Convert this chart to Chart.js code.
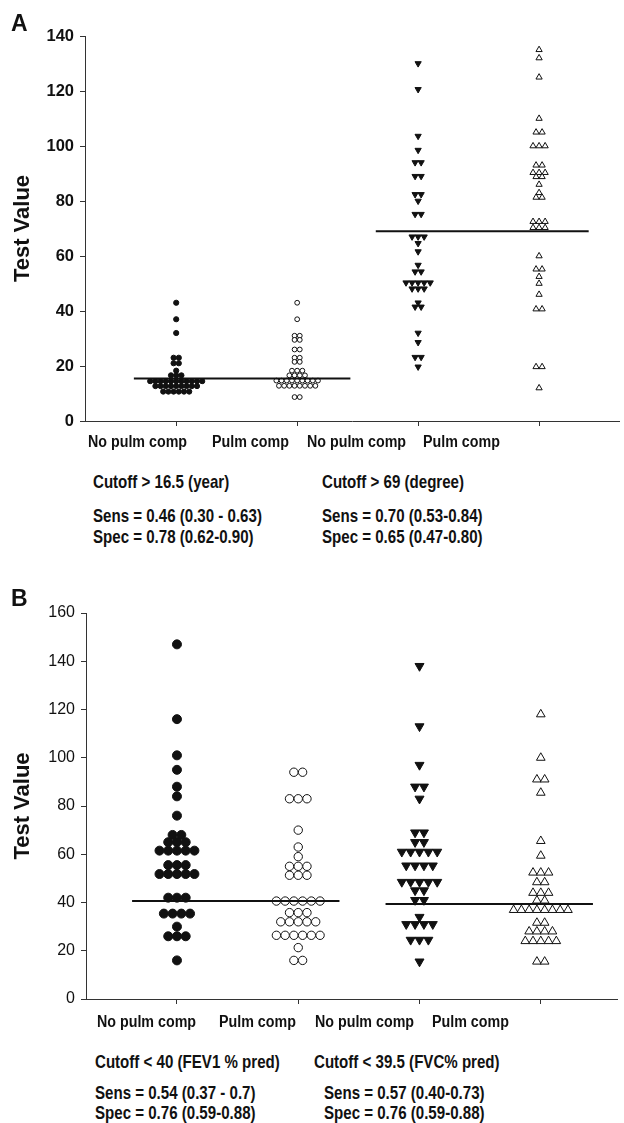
<!DOCTYPE html>
<html>
<head>
<meta charset="utf-8">
<script src="https://cdn.jsdelivr.net/npm/chart.js@4/dist/chart.umd.min.js"></script>
<style>
  html, body { margin: 0; padding: 0; background: #fff; }
  #page { position: relative; width: 624px; height: 1123px;
          font-family: "Liberation Sans", Arial, Helvetica, sans-serif; color: #111; }
  canvas { position: absolute; left: 0; }
  .txt { position: absolute; white-space: nowrap; font-weight: bold; line-height: 1;
         transform-origin: 0 50%; }
  .panel { font-size: 23px; }
  .cat { font-size: 17.2px; transform: scaleX(0.83); }
  .note { font-size: 18.4px; transform: scaleX(0.82); }
</style>
</head>
<body>
<div id="page">
  <canvas id="chart-a" width="624" height="450" style="top:0"></canvas>
  <canvas id="chart-b" width="624" height="450" style="top:580px"></canvas>
</div>
<script>
// group names along the x axis
const categories = ['No pulm comp', 'Pulm comp', 'No pulm comp', 'Pulm comp'];

// Panel A: age (years) and curve angle (degrees)
const ageNoPulm = [43, 37, 32, 23, 23, 21, 21, 18.3, 16.6, 16.6, 16.6,
  14.5, 14.5, 14.5, 14.5, 14.5, 14.5, 14.5, 14.5, 14.5, 14.5, 14.5,
  12.7, 12.7, 12.7, 12.7, 12.7, 12.7, 12.7, 12.7, 12.7,
  10.7, 10.7, 10.7, 10.7, 10.7, 10.7];
const agePulm = [43, 37, 31, 31, 29.5, 29.5, 26, 26, 23, 23, 21.5, 21.5,
  18.3, 18.3, 18.3, 16.6, 16.6, 16.6, 16.6,
  14.7, 14.7, 14.7, 14.7, 14.7, 14.7, 14.7, 14.7, 14.7,
  12.8, 12.8, 12.8, 12.8, 12.8, 12.8, 12.8, 12.8, 8.7, 8.7];
const angleNoPulm = [130, 120.6, 103.6, 98.5, 94, 94, 89, 89, 82.4, 82.4, 80, 75.2, 75.2,
  67, 67, 67, 64.6, 61.6, 56.7, 54.3, 54.3, 50.3, 50.3, 50.3, 50.3, 50.3,
  48.1, 48.1, 48.1, 43, 41.5, 41.5, 32, 28.6, 23.2, 23.2, 19.7];
const anglePulm = [135, 132, 125, 110, 105, 105, 100, 100, 100, 93, 93,
  90.3, 90.3, 90.3, 88.8, 88.8, 86, 83, 81.3, 81.3,
  72.5, 72.5, 72.5, 70.3, 70.3, 70.3, 60, 55.2, 55.2, 52.5, 50, 46,
  40.7, 40.7, 19.7, 19.7, 12];
const cutoffsA = [15.5, 69];

// Panel B: FEV1 % pred and FVC % pred
const fev1NoPulm = [147, 116, 101, 95, 88, 84, 76, 68, 68, 65, 65, 65,
  61.5, 61.5, 61.5, 61.5, 61.5, 55.5, 55.5, 55.5, 51.8, 51.8, 51.8, 51.8, 51.8,
  42, 42, 42, 35.4, 35.4, 35.4, 35.4, 30, 26, 26, 26, 16];
const fev1Pulm = [94, 94, 83, 83, 83, 70, 63, 59, 55, 55, 55, 51.3, 51.3, 51.3,
  40.6, 40.6, 40.6, 40.6, 40.6, 40.6, 35.8, 35.8, 35.8, 32, 32, 32, 32, 32,
  26.4, 26.4, 26.4, 26.4, 26.4, 26.4, 21.3, 16, 16];
const fvcNoPulm = [138, 113, 97, 88, 88, 83, 69, 69, 65, 65,
  61, 61, 61, 61, 61, 55.3, 55.3, 55.3, 55.3, 48.5, 48.5, 48.5, 48.5, 48.5,
  45, 45, 41, 41, 34, 31, 31, 31, 31, 24.5, 24.5, 24.5, 15.5];
const fvcPulm = [118, 100, 91, 91, 85.5, 65.5, 59.4, 52.4, 52.4, 52.4, 48.4, 48.4,
  44, 44, 44, 40.8, 40.8, 36.9, 36.9, 36.9, 36.9, 36.9, 36.9, 36.9, 36.9,
  31.6, 31.6, 28, 28, 28, 28, 24, 24, 24, 24, 24, 15.5, 15.5];
const cutoffsB = [40.6, 39.4];

// tick values
const yTicksA = [0, 20, 40, 60, 80, 100, 120, 140];
const yTicksB = [0, 20, 40, 60, 80, 100, 120, 140, 160];

// text under each panel
const notesA = [
  ['Cutoff > 16.5 (year)', 'Sens = 0.46 (0.30 - 0.63)', 'Spec = 0.78 (0.62-0.90)'],
  ['Cutoff > 69 (degree)', 'Sens = 0.70 (0.53-0.84)', 'Spec = 0.65 (0.47-0.80)'],
];
const notesB = [
  ['Cutoff < 40 (FEV1 % pred)', 'Sens = 0.54 (0.37 - 0.7)', 'Spec = 0.76 (0.59-0.88)'],
  ['Cutoff < 39.5 (FVC% pred)', 'Sens = 0.57 (0.40-0.73)', 'Spec = 0.76 (0.59-0.88)'],
];

const INK = '#111';
const AXIS = '#333';

// spread equal values side by side around the group centre
function swarm(values, center, step) {
  const counts = new Map();
  values.forEach((v) => counts.set(v, (counts.get(v) || 0) + 1));
  const seen = new Map();
  return values.map((v) => {
    const n = counts.get(v);
    const i = seen.get(v) || 0;
    seen.set(v, i + 1);
    return { x: center + (i - (n - 1) / 2) * step, y: v };
  });
}

function pointSet(values, center, step, style) {
  return Object.assign({
    type: 'scatter',
    data: swarm(values, center, step),
    borderWidth: 1,
    borderColor: INK,
    pointHoverRadius: 0,
    order: 1,
  }, style);
}

function cutoffLine(value, from, to) {
  return {
    type: 'line',
    data: [{ x: from, y: value }, { x: to, y: value }],
    borderColor: INK,
    borderWidth: 2,
    pointRadius: 0,
    showLine: true,
    order: 0,
  };
}

function buildChart(canvasId, cfg) {
  new Chart(document.getElementById(canvasId), {
    type: 'scatter',
    data: { datasets: cfg.datasets },
    options: {
      responsive: false,
      devicePixelRatio: 1,
      animation: false,
      events: [],
      layout: { padding: { top: cfg.top, left: 0, right: 0, bottom: 0 } },
      plugins: { legend: { display: false }, tooltip: { enabled: false } },
      scales: {
        x: {
          type: 'linear',
          min: cfg.xMin,
          max: cfg.xMax,
          afterBuildTicks: (scale) => { scale.ticks = categories.map((c, i) => ({ value: i + 1 })); },
          afterFit: (scale) => { scale.height = cfg.xHeight; },
          ticks: { display: false },
          grid: { drawOnChartArea: false, drawTicks: true, tickLength: 5, color: AXIS },
          border: { display: true, color: AXIS, width: 1 },
        },
        y: {
          min: 0,
          max: cfg.yTicks[cfg.yTicks.length - 1],
          afterBuildTicks: (scale) => { scale.ticks = cfg.yTicks.map((v) => ({ value: v })); },
          afterFit: (scale) => { scale.width = cfg.yWidth; },
          ticks: {
            color: INK,
            padding: 6,
            font: { family: '"Liberation Sans", Arial, sans-serif', size: cfg.yTickSize, weight: cfg.yTickWeight },
          },
          grid: { drawOnChartArea: false, drawTicks: true, tickLength: 5, color: AXIS },
          border: { display: true, color: AXIS, width: 1 },
          title: {
            display: true,
            text: 'Test Value',
            color: INK,
            padding: { top: 10, bottom: 0 },
            font: { family: '"Liberation Sans", Arial, sans-serif', size: 22, weight: 'bold' },
          },
        },
      },
    },
  });
}

const filledCircle = (r) => ({ pointStyle: 'circle', pointRadius: r, backgroundColor: INK });
const openCircle = (r) => ({ pointStyle: 'circle', pointRadius: r, backgroundColor: '#fff' });
const filledDown = (r) => ({ pointStyle: 'triangle', pointRotation: 180, pointRadius: r, backgroundColor: INK });
const openUp = (r) => ({ pointStyle: 'triangle', pointRadius: r, backgroundColor: '#fff' });

buildChart('chart-a', {
  top: 36, xHeight: 29, yWidth: 85,
  xMin: 0.246, xMax: 4.664,
  yTicks: yTicksA, yTickSize: 16.5, yTickWeight: 'bold',
  datasets: [
    cutoffLine(cutoffsA[0], 0.65, 2.44),
    cutoffLine(cutoffsA[1], 2.65, 4.41),
    pointSet(ageNoPulm, 1, 0.043, filledCircle(2.6)),
    pointSet(agePulm, 2, 0.043, openCircle(2.4)),
    pointSet(angleNoPulm, 3, 0.05, filledDown(3.6)),
    pointSet(anglePulm, 4, 0.05, openUp(3.6)),
  ],
});

buildChart('chart-b', {
  top: 33, xHeight: 31, yWidth: 86,
  xMin: 0.25, xMax: 4.635,
  yTicks: yTicksB, yTickSize: 16, yTickWeight: 'normal',
  datasets: [
    cutoffLine(cutoffsB[0], 0.63, 2.34),
    cutoffLine(cutoffsB[1], 2.72, 4.43),
    pointSet(fev1NoPulm, 1, 0.072, filledCircle(4.5)),
    pointSet(fev1Pulm, 2, 0.072, openCircle(4.2)),
    pointSet(fvcNoPulm, 3, 0.073, filledDown(5.2)),
    pointSet(fvcPulm, 4, 0.064, openUp(5)),
  ],
});

// text labels placed under each panel
const page = document.getElementById('page');
function addText(text, cls, left, centerY, size) {
  const el = document.createElement('div');
  el.className = 'txt ' + cls;
  el.textContent = text;
  el.style.left = left + 'px';
  el.style.top = (centerY - size / 2) + 'px';
  page.appendChild(el);
}

addText('A', 'panel', 11, 23, 23);
addText('B', 'panel', 11, 598, 23);

[88, 212, 307, 423].forEach((x, i) => addText(categories[i], 'cat', x, 442, 17.2));
[97, 219, 315, 432].forEach((x, i) => addText(categories[i], 'cat', x, 1022, 17.2));

[93, 322].forEach((x, c) => {
  addText(notesA[c][0], 'note', x, 482, 18.4);
  addText(notesA[c][1], 'note', x, 516, 18.4);
  addText(notesA[c][2], 'note', x, 537, 18.4);
});

addText(notesB[0][0], 'note', 95, 1062, 18.4);
addText(notesB[0][1], 'note', 95, 1093, 18.4);
addText(notesB[0][2], 'note', 95, 1113.5, 18.4);
addText(notesB[1][0], 'note', 314, 1062, 18.4);
addText(notesB[1][1], 'note', 324, 1093, 18.4);
addText(notesB[1][2], 'note', 324, 1113.5, 18.4);
</script>
</body>
</html>
